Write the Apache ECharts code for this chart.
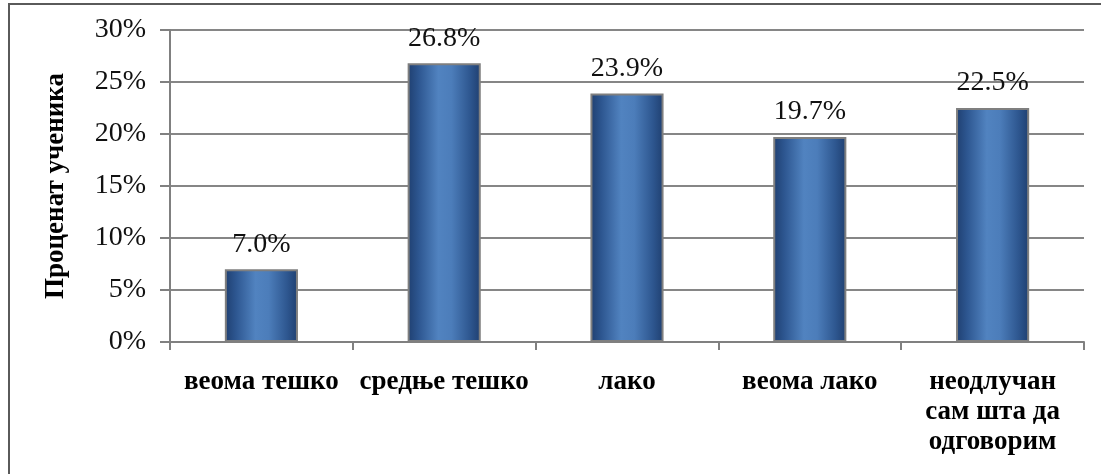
<!DOCTYPE html>
<html>
<head>
<meta charset="utf-8">
<script src="https://cdn.jsdelivr.net/npm/echarts@6/dist/echarts.min.js"></script>
<style>
  html, body { margin: 0; padding: 0; background: #ffffff; }
  #chart { width: 1101px; height: 474px; }
</style>
</head>
<body>
<div id="chart"></div>
<script>
// Response categories and share of students (percent)
const categories = ['веома тешко', 'средње тешко', 'лако', 'веома лако', 'неодлучан\nсам шта да\nодговорим'];
const percentages = [7.0, 26.8, 23.9, 19.7, 22.5];
const yAxisTitle = 'Проценат ученика';

const serif = '"Liberation Serif", "DejaVu Serif", serif';

const barGradient = {
  type: 'linear', x: 0, y: 0, x2: 1, y2: 0,
  colorStops: [
    { offset: 0, color: '#1f3f70' },
    { offset: 0.15, color: '#2d5690' },
    { offset: 0.42, color: '#5183c0' },
    { offset: 0.6, color: '#4c7dba' },
    { offset: 0.85, color: '#2e5790' },
    { offset: 1, color: '#1f3f70' }
  ]
};

const chart = echarts.init(document.getElementById('chart'), null, { renderer: 'canvas' });
chart.setOption({
  backgroundColor: '#ffffff',
  animation: false,
  grid: { left: 170, right: 17, top: 30, bottom: 132, containLabel: false },
  graphic: [{
    type: 'rect',
    shape: { x: 9, y: 4, width: 1110, height: 480 },
    style: { fill: 'none', stroke: '#5a5a5a', lineWidth: 2 },
    silent: true
  }],
  xAxis: {
    type: 'category',
    data: categories,
    axisLine: { lineStyle: { color: '#808080', width: 2 } },
    axisTick: { show: true, length: 8, lineStyle: { color: '#808080', width: 2 } },
    axisLabel: {
      interval: 0,
      margin: 25,
      color: '#000',
      fontFamily: serif,
      fontWeight: 'bold',
      fontSize: 27,
      lineHeight: 30
    }
  },
  yAxis: {
    type: 'value',
    min: 0, max: 30, interval: 5,
    name: yAxisTitle,
    nameLocation: 'middle',
    nameRotate: 90,
    nameGap: 100,
    nameTextStyle: { color: '#000', fontFamily: serif, fontWeight: 'bold', fontSize: 27 },
    axisLine: { show: true, lineStyle: { color: '#808080', width: 2 } },
    axisTick: { show: true, length: 10, lineStyle: { color: '#808080', width: 2 } },
    splitLine: { lineStyle: { color: '#868686', width: 2 } },
    axisLabel: {
      margin: 24,
      color: '#111',
      fontFamily: serif,
      fontSize: 28,
      formatter: v => v + '%'
    }
  },
  series: [{
    type: 'bar',
    data: percentages,
    barWidth: '40%',
    itemStyle: { color: barGradient, borderColor: '#7f7f7f', borderWidth: 2 },
    label: {
      show: true,
      position: 'top',
      distance: 11,
      color: '#111',
      fontFamily: serif,
      fontSize: 28,
      formatter: p => p.value.toFixed(1) + '%'
    }
  }]
});
</script>
</body>
</html>
